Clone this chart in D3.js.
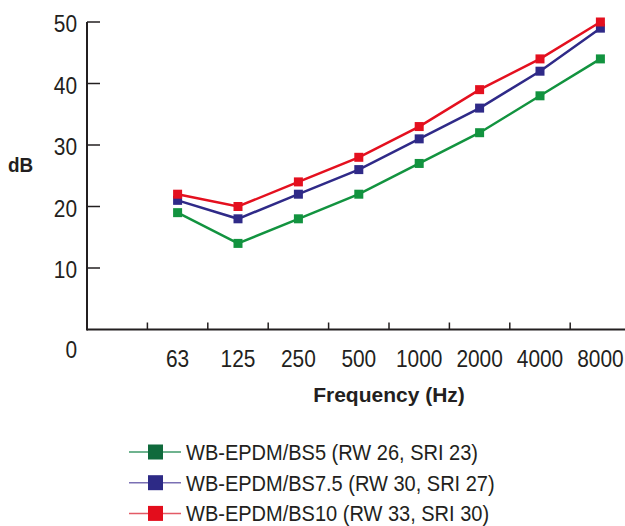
<!DOCTYPE html>
<html>
<head>
<meta charset="utf-8">
<script src="https://cdn.jsdelivr.net/npm/d3@7"></script>
<style>
  body { margin: 0; background: #fff; }
  svg text { font-family: "Liberation Sans", Arial, sans-serif; fill: #231f20; }
</style>
</head>
<body>
<svg width="625" height="526"></svg>
<script>
let categories = ["63", "125", "250", "500", "1000", "2000", "4000", "8000"];
let yTicks = [0, 10, 20, 30, 40, 50];

let bs5 = [19, 14, 18, 22, 27, 32, 38, 44];
let bs75 = [21, 18, 22, 26, 31, 36, 42, 49];
let bs10 = [22, 20, 24, 28, 33, 39, 44, 50];

let seriesNames = [
  "WB-EPDM/BS5 (RW 26, SRI 23)",
  "WB-EPDM/BS7.5 (RW 30, SRI 27)",
  "WB-EPDM/BS10 (RW 33, SRI 30)",
];
let seriesValues = [bs5, bs75, bs10];

let lineColors = ["#12933f", "#2f2a88", "#e4101f"];
let legendLineColors = ["#3f9a6a", "#7b70b4", "#e35a66"];
let legendBoxColors = ["#0f6a3c", "#2d2a86", "#e30d1c"];

let svg = d3.select("svg");

let left = 87,
  bottom = 329.5,
  step = 60.4;

// the original font is condensed, so squeeze text horizontally
function squeeze(x, y, sx) {
  return "translate(" + x + "," + y + ") scale(" + sx + ",1)";
}

// first band is left empty, data sits in the centre of bands 1..8
let x = d3
  .scaleBand()
  .domain([""].concat(categories))
  .range([left, left + step * 9]);

let y = d3.scaleLinear().domain([0, 50]).range([bottom, 22]);

// axes
svg
  .append("line")
  .attr("x1", left)
  .attr("x2", 625)
  .attr("y1", bottom)
  .attr("y2", bottom)
  .attr("stroke", "#231f20")
  .attr("stroke-width", 2);

svg
  .append("line")
  .attr("x1", left)
  .attr("x2", left)
  .attr("y1", y(50))
  .attr("y2", bottom + 1)
  .attr("stroke", "#231f20")
  .attr("stroke-width", 2);

// x tick marks at band boundaries
svg
  .append("g")
  .selectAll("line")
  .data(categories)
  .enter()
  .append("line")
  .attr("x1", (d) => x(d))
  .attr("x2", (d) => x(d))
  .attr("y1", bottom)
  .attr("y2", bottom - 7)
  .attr("stroke", "#231f20")
  .attr("stroke-width", 1.5);

svg
  .append("g")
  .selectAll("text")
  .data(categories)
  .enter()
  .append("text")
  .attr("transform", (d) => squeeze(x(d) + x.bandwidth() / 2, 367, 0.87))
  .attr("text-anchor", "middle")
  .style("font-size", "24px")
  .text((d) => d);

// y ticks
svg
  .append("g")
  .selectAll("line")
  .data(yTicks.filter((d) => d > 0))
  .enter()
  .append("line")
  .attr("x1", left)
  .attr("x2", left + 13)
  .attr("y1", (d) => y(d))
  .attr("y2", (d) => y(d))
  .attr("stroke", "#231f20")
  .attr("stroke-width", 1.5);

svg
  .append("g")
  .selectAll("text")
  .data(yTicks)
  .enter()
  .append("text")
  .attr("transform", (d) => squeeze(77, d == 0 ? y(d) + 28.5 : y(d) + 10, 0.87))
  .attr("text-anchor", "end")
  .style("font-size", "24px")
  .text((d) => d);

svg
  .append("text")
  .attr("transform", squeeze(8, 172, 0.9))
  .style("font-size", "21px")
  .style("font-weight", "bold")
  .text("dB");

svg
  .append("text")
  .attr("x", 389)
  .attr("y", 402)
  .attr("text-anchor", "middle")
  .style("font-size", "21px")
  .style("font-weight", "bold")
  .text("Frequency (Hz)");

// series
let line = d3
  .line()
  .x((d, i) => x(categories[i]) + x.bandwidth() / 2)
  .y((d) => y(d));

seriesValues.forEach(function (vals, s) {
  let g = svg.append("g");
  g.append("path")
    .datum(vals)
    .attr("d", line)
    .attr("fill", "none")
    .attr("stroke", lineColors[s])
    .attr("stroke-width", 2.5);
  g.selectAll("rect")
    .data(vals)
    .enter()
    .append("rect")
    .attr("x", (d, i) => x(categories[i]) + x.bandwidth() / 2 - 4.5)
    .attr("y", (d) => y(d) - 4.5)
    .attr("width", 9)
    .attr("height", 9)
    .attr("fill", lineColors[s]);
});

// legend
let legend = svg
  .append("g")
  .selectAll("g")
  .data(seriesNames)
  .enter()
  .append("g")
  .attr("transform", (d, i) => "translate(0," + (452 + i * 30.7) + ")");

legend
  .append("line")
  .attr("x1", 129)
  .attr("x2", 181)
  .attr("stroke", (d, i) => legendLineColors[i])
  .attr("stroke-width", 1.5);

legend
  .append("rect")
  .attr("x", 148)
  .attr("y", -7.5)
  .attr("width", 15)
  .attr("height", 15)
  .attr("fill", (d, i) => legendBoxColors[i]);

legend
  .append("text")
  .attr("transform", squeeze(186, 8, 0.91))
  .style("font-size", "22px")
  .text((d) => d);
</script>
</body>
</html>
